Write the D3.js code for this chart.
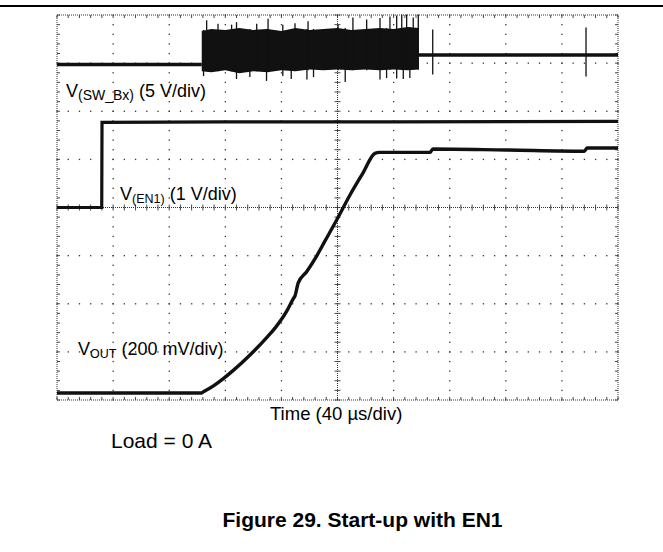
<!DOCTYPE html>
<html>
<head>
<meta charset="utf-8">
<script src="https://cdn.jsdelivr.net/npm/d3@7"></script>
<style>
  body { margin: 0; background: #fff; }
  text { font-family: "Liberation Sans", Arial, sans-serif; fill: #000; }
</style>
</head>
<body>
<div id="chart"></div>
<script>
const WIDTH = 663, HEIGHT = 552;
const PLOT = {left: 57, top: 15, right: 618, bottom: 400};
const TIME_DIVS = 10, VOLT_DIVS = 8, US_PER_DIV = 40, MINOR = 5;

// channel scaling: volts per division and ground marker (divisions from bottom)
const swVoltsPerDiv = 5, swGroundDiv = 6.97;
const en1VoltsPerDiv = 1, en1GroundDiv = 4.0;
const voutVoltsPerDiv = 0.2, voutGroundDiv = 0.145;

// V(SW_Bx) idle level before / after switching (µs, V)
const swIdleTime = [0, 103.2, null, 258, 400];
const swIdleVolts = [0, 0, null, 1.0, 1.0];

// V(SW_Bx) switching burst envelope
const burstTime = [103.2, 110, 120, 130, 140, 150, 160, 170, 180, 190, 200, 210, 220, 230, 240, 250, 258];
const burstHigh = [3.5, 3.7, 3.6, 3.8, 3.6, 3.7, 3.5, 3.8, 3.6, 3.7, 3.8, 3.6, 3.7, 3.8, 3.7, 3.9, 3.8];
const burstLow = [-0.7, -0.8, -0.6, -0.9, -0.7, -0.8, -0.6, -0.7, -0.5, -0.6, -0.5, -0.6, -0.5, -0.6, -0.5, -0.6, -0.5];

// V(SW_Bx) ringing spikes: time, low, high
const swSpikeTime = [104.5, 106.7, 114.8, 124.5, 128, 137.5, 142.4, 149.4, 150.5, 161, 167, 169.7,
                     178.2, 179, 182.9, 200.4, 205.5, 211, 220.8, 230.3, 235, 237.4, 242.2, 245.8,
                     246.9, 249.3, 251.6, 254, 257.6, 267.9, 377.2];
const swSpikeLow = [-1.2, -0.7, -0.7, -0.7, -1.5, -1.3, -0.7, -1.7, -0.7, -1.2, -1.5, -0.6,
                    -1.56, -0.6, -1.3, -0.6, -1.8, -0.6, -0.6, -1.56, -1.4, -0.5, -1.45, -0.5,
                    -1.5, -0.5, -1.4, -0.5, -0.5, -1.04, -1.25];
const swSpikeHigh = [3.6, 4.6, 4.25, 4.15, 4.4, 3.7, 4.25, 3.7, 4.75, 4.15, 3.6, 4.3,
                     3.7, 4.5, 3.7, 4.15, 3.8, 4.9, 4.68, 4.85, 3.8, 5.0, 5.1, 5.2,
                     3.8, 5.2, 3.9, 4.9, 5.2, 3.64, 3.84];

// V(EN1)
const en1Time = [0, 31.9, 32.1, 120, 240, 400];
const en1Volts = [0, 0, 1.77, 1.78, 1.78, 1.79];

// VOUT
const voutTime = [0, 103, 104, 110, 118.6, 125.7, 137.6, 149.5, 156, 163.8, 168.5, 169.7, 172.0,
                  178.0, 185.2, 191.1, 199.4, 208.9, 218, 226.7, 230, 266, 268, 320, 376, 378, 400];
const voutVolts = [0, 0, 0.004, 0.024, 0.060, 0.094, 0.158, 0.230, 0.274, 0.340, 0.392, 0.404, 0.458,
                   0.504, 0.570, 0.632, 0.719, 0.823, 0.913, 0.996, 1.0, 1.0, 1.014, 1.01, 1.005, 1.018, 1.018];

const svg = d3.select("#chart").append("svg")
    .attr("width", WIDTH)
    .attr("height", HEIGHT);

const x = d3.scaleLinear().domain([0, TIME_DIVS * US_PER_DIV]).range([PLOT.left, PLOT.right]);
const y = d3.scaleLinear().domain([0, VOLT_DIVS]).range([PLOT.bottom, PLOT.top]);

const swY = v => y(swGroundDiv + v / swVoltsPerDiv);
const en1Y = v => y(en1GroundDiv + v / en1VoltsPerDiv);
const voutY = v => y(voutGroundDiv + v / voutVoltsPerDiv);

// top rule
svg.append("line")
    .attr("x1", 0).attr("x2", WIDTH)
    .attr("y1", 6).attr("y2", 6)
    .attr("stroke", "#000").attr("stroke-width", 2);

// ==================== graticule =====================
const grid = svg.append("g").attr("class", "graticule");
const GRID_COLOR = "#333";
const xMinor = d3.range(0, TIME_DIVS * MINOR + 1).map(i => i * US_PER_DIV / MINOR);
const yMinor = d3.range(0, VOLT_DIVS * MINOR + 1).map(i => i / MINOR);

// dotted major lines (not centre, not border)
d3.range(1, TIME_DIVS).filter(i => i !== TIME_DIVS / 2).forEach(i => {
    grid.selectAll(null).data(yMinor).enter().append("rect")
        .attr("x", x(i * US_PER_DIV) - 0.6).attr("y", d => y(d) - 0.6)
        .attr("width", 1.3).attr("height", 1.3).attr("fill", GRID_COLOR);
});
d3.range(1, VOLT_DIVS).filter(j => j !== VOLT_DIVS / 2).forEach(j => {
    grid.selectAll(null).data(xMinor).enter().append("rect")
        .attr("x", d => x(d) - 0.6).attr("y", y(j) - 0.6)
        .attr("width", 1.3).attr("height", 1.3).attr("fill", GRID_COLOR);
});

// centre cross with ticks
const xc = x(TIME_DIVS / 2 * US_PER_DIV), yc = y(VOLT_DIVS / 2);
grid.append("line").attr("x1", xc).attr("x2", xc).attr("y1", PLOT.top).attr("y2", PLOT.bottom)
    .attr("stroke", GRID_COLOR).attr("stroke-dasharray", "1,1");
grid.append("line").attr("x1", PLOT.left).attr("x2", PLOT.right).attr("y1", yc).attr("y2", yc)
    .attr("stroke", GRID_COLOR).attr("stroke-dasharray", "1,1");
grid.selectAll(".vtick").data(yMinor).enter().append("line")
    .attr("x1", xc - 3).attr("x2", xc + 3).attr("y1", d => y(d)).attr("y2", d => y(d))
    .attr("stroke", GRID_COLOR).attr("stroke-width", 0.9);
grid.selectAll(".htick").data(xMinor).enter().append("line")
    .attr("x1", d => x(d)).attr("x2", d => x(d)).attr("y1", yc - 3).attr("y2", yc + 3)
    .attr("stroke", GRID_COLOR).attr("stroke-width", 0.9);

// border with inward ticks
grid.append("rect")
    .attr("x", PLOT.left).attr("y", PLOT.top)
    .attr("width", PLOT.right - PLOT.left).attr("height", PLOT.bottom - PLOT.top)
    .attr("fill", "none").attr("stroke", GRID_COLOR).attr("stroke-dasharray", "1,1");
[[PLOT.top, 1], [PLOT.bottom, -1]].forEach(([yy, dir]) => {
    grid.selectAll(null).data(xMinor).enter().append("line")
        .attr("x1", d => x(d)).attr("x2", d => x(d)).attr("y1", yy).attr("y2", yy + 3 * dir)
        .attr("stroke", GRID_COLOR).attr("stroke-width", 0.9);
});
[[PLOT.left, 1], [PLOT.right, -1]].forEach(([xx, dir]) => {
    grid.selectAll(null).data(yMinor).enter().append("line")
        .attr("x1", xx).attr("x2", xx + 3 * dir).attr("y1", d => y(d)).attr("y2", d => y(d))
        .attr("stroke", GRID_COLOR).attr("stroke-width", 0.9);
});

// ==================== traces =====================
const TRACE = "#111";
const traces = svg.append("g").attr("class", "traces");

// SW burst block
const burst = d3.area()
    .x((d, i) => x(burstTime[i]))
    .y0((d, i) => swY(burstLow[i]))
    .y1((d, i) => swY(burstHigh[i]));
traces.append("path").attr("d", burst(burstTime)).attr("fill", TRACE);

traces.selectAll(".spike").data(swSpikeTime).enter().append("line")
    .attr("class", "spike")
    .attr("x1", d => x(d)).attr("x2", d => x(d))
    .attr("y1", (d, i) => swY(swSpikeLow[i]))
    .attr("y2", (d, i) => swY(swSpikeHigh[i]))
    .attr("stroke", TRACE).attr("stroke-width", 1.3);

const swLine = d3.line()
    .defined((d, i) => swIdleVolts[i] !== null)
    .x((d, i) => x(swIdleTime[i]))
    .y((d, i) => swY(swIdleVolts[i]));
traces.append("path").attr("d", swLine(swIdleTime))
    .attr("fill", "none").attr("stroke", TRACE).attr("stroke-width", 3.4);

const en1Line = d3.line()
    .x((d, i) => x(en1Time[i]))
    .y((d, i) => en1Y(en1Volts[i]));
traces.append("path").attr("d", en1Line(en1Time))
    .attr("fill", "none").attr("stroke", TRACE).attr("stroke-width", 3.2);

const voutLine = d3.line()
    .x((d, i) => x(voutTime[i]))
    .y((d, i) => voutY(voutVolts[i]))
    .curve(d3.curveMonotoneX);
traces.append("path").attr("d", voutLine(voutTime))
    .attr("fill", "none").attr("stroke", TRACE).attr("stroke-width", 3.4);

// ==================== labels =====================
function channelLabel(xPos, yPos, sub, rest, subSize) {
    const t = svg.append("text").attr("x", xPos).attr("y", yPos).style("font-size", "18px");
    t.append("tspan").text("V");
    t.append("tspan").attr("dy", 3).style("font-size", subSize + "px").text(sub);
    t.append("tspan").attr("dy", -3).text(rest);
}
channelLabel(66, 97, "(SW_Bx)", " (5 V/div)", 14);
channelLabel(120, 200, "(EN1)", " (1 V/div)", 12.5);
channelLabel(78, 355, "OUT", " (200 mV/div)", 12.5);

svg.append("text").attr("x", 270).attr("y", 420).style("font-size", "18.5px")
    .text("Time (40 \u00b5s/div)");
svg.append("text").attr("x", 111).attr("y", 448).style("font-size", "21px")
    .text("Load = 0 A");
svg.append("text").attr("x", 362.5).attr("y", 527).attr("text-anchor", "middle")
    .style("font-size", "21px").style("font-weight", "bold")
    .text("Figure 29. Start-up with EN1");
</script>
</body>
</html>
